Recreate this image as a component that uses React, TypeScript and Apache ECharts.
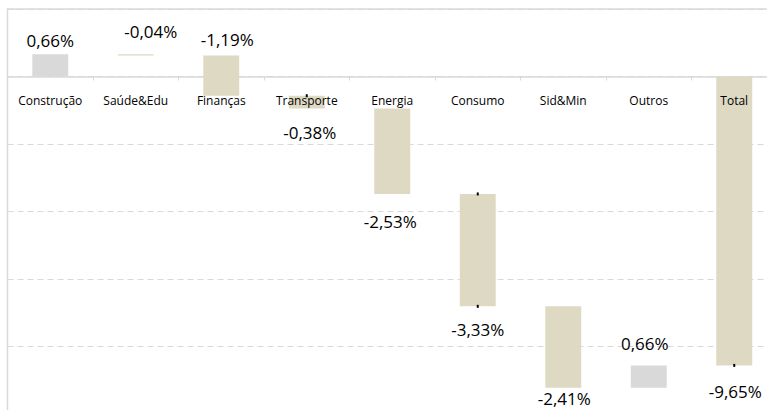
import React, { useEffect, useRef } from "react";
import * as echarts from "echarts";

const categories = ["Construção", "Saúde&Edu", "Finanças", "Transporte", "Energia", "Consumo", "Sid&Min", "Outros", "Total"];
const deltas = [0.66, -0.04, -1.19, -0.38, -2.53, -3.33, -2.41, 0.66];
const valueLabels = ["0,66%", "-0,04%", "-1,19%", "-0,38%", "-2,53%", "-3,33%", "-2,41%", "0,66%", "-9,65%"];
const yTicks = { min: -10, max: 2, interval: 2 };

// label styling (placement relative to each bar)
const labelSide = ["top", "top", "top", "bottom", "bottom", "bottom", "bottom", "top", "bottom"];
const labelGap = [5, 14, 8, 15, 19, 15, 2, 13, 18];
const labelDx = [0, 15, 6, 3, -2, 0, 1, -4, 1];
// tiny end marks: 0 none, 1 start, 2 end, 3 both
const endMarks = [0, 0, 0, 1, 0, 3, 0, 0, 2];

const GREY = "#d9d9d9";
const BEIGE = "#ddd9c3";
const FONT = "'Open Sans', sans-serif";

function buildFloating() {
  const rows: number[][] = [];
  let cum = 0;
  deltas.forEach((d, i) => {
    const start = cum;
    cum = +(cum + d).toFixed(4);
    rows.push([i, start, cum]);
  });
  rows.push([deltas.length, 0, cum]);
  return rows;
}

export default function App() {
  const ref = useRef<HTMLDivElement>(null);
  useEffect(() => {
    if (!ref.current) return;
    const chart = echarts.init(ref.current, null, { renderer: "svg" });
    const data = buildFloating();
    const option: any = {
      animation: false,
      backgroundColor: "#fff",
      grid: {
        left: 7.5,
        top: 9,
        width: 769.5,
        height: 405,
        show: true,
        borderColor: GREY,
        borderWidth: 1.5,
        backgroundColor: "transparent",
        containLabel: false,
        outerBoundsMode: "none",
      },
      xAxis: {
        type: "category",
        data: categories,
        position: "bottom",
        z: 0,
        axisLine: { show: true, onZero: true, lineStyle: { color: GREY, width: 1.5 } },
        axisTick: { show: true, length: 4, lineStyle: { color: GREY, width: 1 } },
        axisLabel: { show: false },
      },
      yAxis: {
        type: "value",
        min: yTicks.min,
        max: yTicks.max,
        interval: yTicks.interval,
        axisLine: { show: false },
        axisTick: { show: false },
        axisLabel: { show: false },
        splitLine: { show: true, lineStyle: { color: GREY, width: 1, type: [6, 4] } },
      },
      series: [
        {
          type: "custom",
          z: 5,
          data,
          encode: { x: 0, y: [1, 2] },
          renderItem: (params: any, api: any) => {
            const i = api.value(0);
            const s = api.value(1);
            const e = api.value(2);
            const p1 = api.coord([i, s]);
            const p2 = api.coord([i, e]);
            const band = api.size([1, 0])[0];
            const w = band * 0.42;
            const cx = p1[0];
            const top = Math.min(p1[1], p2[1]);
            const h = Math.max(Math.abs(p1[1] - p2[1]), 1.3);
            const isTotal = i === deltas.length;
            const color = isTotal ? BEIGE : e >= s ? GREY : BEIGE;
            const side = labelSide[i];
            const children: any[] = [
              { type: "rect", shape: { x: cx - w / 2, y: top, width: w, height: h }, style: { fill: color } },
              {
                type: "text",
                z2: 20,
                style: {
                  text: valueLabels[i],
                  x: cx + labelDx[i],
                  y: side === "top" ? top - labelGap[i] : top + h + labelGap[i],
                  align: "center",
                  verticalAlign: side === "top" ? "bottom" : "top",
                  fill: "#000",
                  font: `17px ${FONT}`,
                },
              },
            ];
            const m = endMarks[i];
            if (m === 1 || m === 3) {
              children.push({ type: "rect", shape: { x: cx - 1, y: p1[1] - 1.5, width: 2, height: 3 }, style: { fill: "#000" } });
            }
            if (m === 2 || m === 3) {
              children.push({ type: "rect", shape: { x: cx - 1, y: p2[1] - 1.5, width: 2, height: 3 }, style: { fill: "#000" } });
            }
            return { type: "group", children };
          },
        },
        {
          // category names sitting just under the zero line, drawn above the bars
          type: "custom",
          z: 10,
          silent: true,
          data: categories.map((c, i) => [i, 0]),
          encode: { x: 0, y: 1 },
          renderItem: (params: any, api: any) => {
            const i = api.value(0);
            const p = api.coord([i, 0]);
            return {
              type: "text",
              style: {
                text: categories[i],
                x: p[0],
                y: p[1] + 18,
                align: "center",
                verticalAlign: "top",
                fill: "#000",
                font: `12px ${FONT}`,
              },
            };
          },
        },
      ],
    };
    chart.setOption(option);
    return () => chart.dispose();
  }, []);
  return (
    <div
      ref={ref}
      style={{ position: "absolute", left: 0, top: 0, width: 767, height: 410 }}
    />
  );
}
